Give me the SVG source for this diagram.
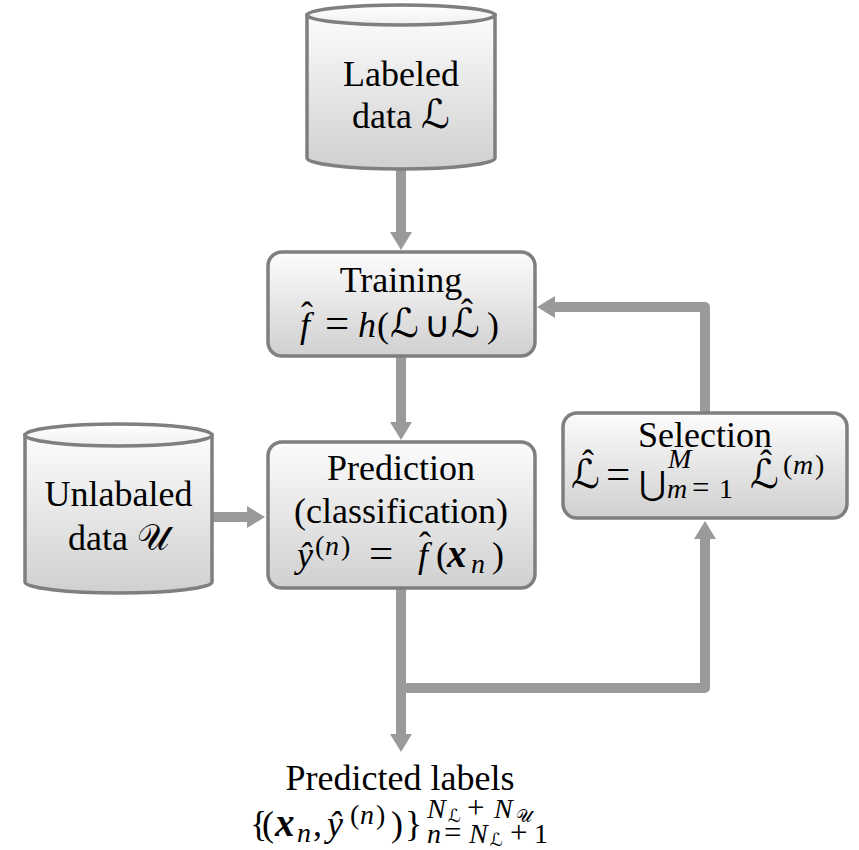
<svg xmlns="http://www.w3.org/2000/svg" width="859" height="850" viewBox="0 0 859 850">
<defs>
<linearGradient id="g" x1="0" y1="0" x2="0" y2="1"><stop offset="0" stop-color="#fcfcfc"/><stop offset="1" stop-color="#d0d0d0"/></linearGradient>
<linearGradient id="gt" x1="0" y1="0" x2="0" y2="1"><stop offset="0" stop-color="#ffffff"/><stop offset="1" stop-color="#f0f0f0"/></linearGradient>
<marker id="ah" markerUnits="userSpaceOnUse" markerWidth="18" markerHeight="22" viewBox="0 0 18 22" refX="1" refY="11" orient="auto"><path d="M0,0 L18,11 L0,22 z" fill="#9a9a9a"/></marker>
<style>
.box{fill:url(#g);stroke:#7f7f7f;stroke-width:3.5}
.top{fill:url(#gt);stroke:#7f7f7f;stroke-width:3.5}
.conn{fill:none;stroke:#9a9a9a;stroke-width:10;stroke-linejoin:round}
.t{font-family:"Liberation Serif","Times New Roman",serif;font-size:36px;fill:#000}
.m{text-anchor:middle}
.i{font-style:italic}
.b{font-weight:bold;font-style:italic;font-size:39px}
.s{font-size:28px}
.ss{font-size:18px}
.op{font-size:31px}
.eq{font-size:43px}
.sc{font-family:"DejaVu Sans","DejaVu Serif",sans-serif;font-style:normal}
.L{font-family:"DejaVu Sans","DejaVu Serif",sans-serif;font-style:normal;font-size:40px}
</style>
</defs>
<g id="connectors">
<path class="conn" d="M401,170 V233" marker-end="url(#ah)"/>
<path class="conn" d="M401,357 V423" marker-end="url(#ah)"/>
<path class="conn" d="M213,517 H248" marker-end="url(#ah)"/>
<path class="conn" d="M401,589 V735" marker-end="url(#ah)"/>
<path class="conn" d="M396,688 H705 V538" marker-end="url(#ah)"/>
<path class="conn" d="M705,412 V307 H554" marker-end="url(#ah)"/>
</g>
<g id="labeled">
<path class="box" d="M307,15 V158 A94,11 0 0 0 495,158 V15 Z"/>
<ellipse class="top" cx="401" cy="15" rx="94" ry="10"/>
<text class="t m" x="401" y="86">Labeled</text>
<text class="t m" x="401" y="128">data <tspan class="L">ℒ</tspan></text>
</g>
<g id="unlabeled">
<path class="box" d="M25,435 V582 A93.5,11 0 0 0 212,582 V435 Z"/>
<ellipse class="top" cx="118.5" cy="435" rx="93.5" ry="11"/>
<text class="t m" x="118.5" y="506">Unlabaled</text>
<text class="t m" x="118.5" y="550">data <tspan class="sc">𝒰</tspan></text>
</g>
<g id="training">
<rect class="box" x="268" y="252" width="267" height="104" rx="14"/>
<text class="t m" x="401" y="292">Training</text>
<text class="t" y="337"><tspan class="i" x="300">f</tspan><tspan class="eq" x="325">=</tspan><tspan class="i" x="358">h</tspan><tspan x="377">(</tspan><tspan class="L" x="390">ℒ</tspan><tspan x="424">∪</tspan><tspan class="L" x="451">ℒ</tspan><tspan x="487">)</tspan></text>
<text class="t m" x="307" y="327">ˆ</text>
<text class="t m" x="467" y="324">ˆ</text>
</g>
<g id="prediction">
<rect class="box" x="268" y="442" width="267" height="146" rx="14"/>
<text class="t m" x="401" y="480">Prediction</text>
<text class="t m" x="401" y="523">(classification)</text>
<text class="t" y="567"><tspan class="i" x="297">ŷ</tspan><tspan class="eq" x="369">=</tspan><tspan class="i" x="418">f</tspan><tspan x="436">(</tspan><tspan class="b" x="447">x</tspan><tspan class="s i" x="471" y="573">n</tspan><tspan x="492" y="567">)</tspan></text>
<text class="t s" y="555"><tspan x="315">(</tspan><tspan class="i" x="325">n</tspan><tspan x="341">)</tspan></text>
<text class="t m" x="425" y="557">ˆ</text>
</g>
<g id="selection">
<rect class="box" x="563" y="413" width="284" height="105" rx="14"/>
<text class="t m" x="705" y="447">Selection</text>
<text class="t" y="488"><tspan class="L" x="571">ℒ</tspan><tspan class="eq" x="606">=</tspan><tspan class="L" x="750">ℒ</tspan></text>
<text class="t sc" x="639" y="495" style="font-size:33px">⋃</text>
<text class="t s i" x="668" y="468">M</text>
<text class="t s" y="498"><tspan class="i" x="667">m</tspan><tspan class="op" x="692">=</tspan><tspan x="719">1</tspan></text>
<text class="t s" y="474"><tspan x="783">(</tspan><tspan class="i" x="793">m</tspan><tspan x="815">)</tspan></text>
<text class="t m" x="588" y="475">ˆ</text>
<text class="t m" x="766" y="475">ˆ</text>
</g>
<g id="predicted">
<text class="t m" x="400" y="790">Predicted labels</text>
<text class="t" y="836"><tspan x="250">{</tspan><tspan x="262">(</tspan><tspan class="b" x="275">x</tspan><tspan class="s i" x="297" y="842">n</tspan><tspan x="313" y="836">,</tspan><tspan class="i" x="327">ŷ</tspan><tspan x="391">)</tspan><tspan x="405">}</tspan></text>
<text class="t s" y="824"><tspan x="350">(</tspan><tspan class="i" x="360">n</tspan><tspan x="376">)</tspan></text>
<text class="t s" y="818"><tspan class="i" x="427">N</tspan><tspan class="sc ss" x="448" y="822">ℒ</tspan><tspan class="op" x="467" y="818">+</tspan><tspan class="i" x="494">N</tspan><tspan class="sc ss" x="516" y="822">𝒰</tspan></text>
<text class="t s" y="843"><tspan class="i" x="427">n</tspan><tspan class="op" x="444">=</tspan><tspan class="i" x="469">N</tspan><tspan class="sc ss" x="490" y="846">ℒ</tspan><tspan class="op" x="510" y="843">+</tspan><tspan x="534">1</tspan></text>
</g>
</svg>
